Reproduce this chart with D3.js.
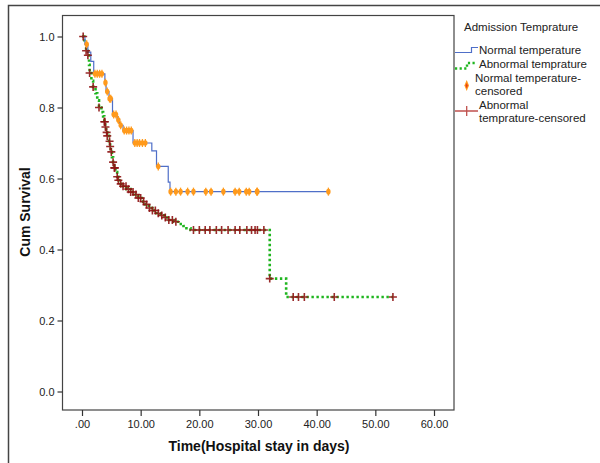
<!DOCTYPE html>
<html><head><meta charset="utf-8">
<script src="https://cdn.jsdelivr.net/npm/d3@7"></script>
<style>body{margin:0;background:#fff}svg{display:block}</style>
</head><body><svg id="c" width="600" height="463"></svg>
<script>
// ---- data ----
const xTicks = [0, 10, 20, 30, 40, 50, 60];
const xTickLabels = [".00", "10.00", "20.00", "30.00", "40.00", "50.00", "60.00"];
const yTicks = [0, 0.2, 0.4, 0.6, 0.8, 1.0];
const yTickLabels = ["0.0", "0.2", "0.4", "0.6", "0.8", "1.0"];
const groups = ["Normal temperature", "Abnormal temprature"];
// step times (days) and survival after each step
const normalStepTimes = [0, 0.5, 1.0, 1.5, 2.0, 3.9, 4.1, 4.6, 5.2, 6.0, 6.4, 7.0, 8.7, 11.9, 12.7, 14.7, 15.0];
const normalStepSurv  = [1.0, 0.978, 0.956, 0.93, 0.895, 0.87, 0.845, 0.825, 0.78, 0.765, 0.75, 0.735, 0.70, 0.678, 0.634, 0.59, 0.563];
const normalEnd = 42;
const normalCensored = [0.8, 2.2, 2.6, 3.0, 3.4, 4.0, 4.3, 4.7, 4.9, 5.4, 5.8, 6.2, 6.6, 7.2, 7.6, 8.0, 8.4, 9.0, 9.4, 9.8, 10.3, 10.8, 13.0, 15.1, 16.0, 16.8, 18.0, 19.0, 21.1, 22.0, 24.1, 26.1, 26.8, 28.0, 28.5, 29.8, 29.9, 42.0];
const abnStepTimes = [0, 0.4, 0.7, 1.0, 1.2, 1.3, 1.6, 1.9, 2.3, 2.6, 2.9, 3.3, 3.6, 3.8, 3.95, 4.1, 4.3, 4.6, 4.8, 4.9, 5.1, 5.3, 5.5, 5.7, 6.0, 6.2, 6.6, 7.0, 7.6, 8.3, 9.0, 9.6, 10.2, 10.8, 11.4, 12.0, 12.7, 13.4, 14.0, 14.8, 15.6, 16.6, 17.3, 17.8, 18.5, 32.0, 34.8];
const abnStepSurv  = [1.0, 0.985, 0.96, 0.947, 0.92, 0.897, 0.875, 0.858, 0.84, 0.82, 0.80, 0.787, 0.775, 0.76, 0.745, 0.73, 0.72, 0.705, 0.69, 0.675, 0.66, 0.646, 0.63, 0.618, 0.605, 0.595, 0.585, 0.578, 0.57, 0.562, 0.555, 0.545, 0.535, 0.527, 0.517, 0.51, 0.502, 0.496, 0.49, 0.483, 0.478, 0.472, 0.466, 0.46, 0.455, 0.318, 0.266];
const abnEnd = 53;
const abnCensored = [0.2, 0.7, 1.0, 1.3, 1.9, 2.9, 3.8, 3.9, 4.0, 4.2, 4.3, 4.7, 4.8, 5.0, 5.3, 5.5, 5.6, 6.0, 6.2, 6.6, 7.0, 7.5, 7.9, 8.3, 8.7, 9.2, 9.6, 10.0, 10.5, 11.0, 11.5, 12.0, 12.5, 13.0, 13.6, 14.2, 14.8, 15.4, 16.0, 19.0, 20.0, 21.0, 21.8, 22.9, 23.8, 24.9, 26.1, 26.9, 28.1, 28.9, 29.5, 29.9, 31.0, 32.0, 36.0, 36.9, 37.9, 43.0, 53.0];

// ---- drawing ----
const svg = d3.select("#c");
const FONT = "'Liberation Sans', Arial, sans-serif";
const L = 62.5, R = 454, T = 15.5, B = 410;
const x = d3.scaleLinear().domain([0, 60]).range([82, 434]);
const y = d3.scaleLinear().domain([0, 1]).range([391.5, 36.5]);

// outer frame (left & top)
svg.append("path").attr("d", `M8.5,463 V5.5 H600`).attr("fill", "none").attr("stroke", "#444").attr("stroke-width", 1.5);
// plot frame
svg.append("rect").attr("x", L).attr("y", T).attr("width", R - L).attr("height", B - T)
  .attr("fill", "none").attr("stroke", "#444").attr("stroke-width", 1.2);

// y axis
const yAxis = svg.append("g").attr("transform", `translate(${L},0)`)
  .call(d3.axisLeft(y).tickValues(yTicks).tickSize(5).tickPadding(3)
    .tickFormat((d, i) => yTickLabels[i]));
yAxis.select(".domain").remove();
yAxis.selectAll("line").attr("stroke", "#333").attr("stroke-width", 1.2);
yAxis.selectAll("text").attr("font-family", FONT).attr("font-size", 11).attr("fill", "#222");

// x axis
const xAxis = svg.append("g").attr("transform", `translate(0,${B})`)
  .call(d3.axisBottom(x).tickValues(xTicks).tickSize(6).tickPadding(4)
    .tickFormat((d, i) => xTickLabels[i]));
xAxis.select(".domain").remove();
xAxis.selectAll("line").attr("stroke", "#333").attr("stroke-width", 1.2);
xAxis.selectAll("text").attr("font-family", FONT).attr("font-size", 11).attr("fill", "#222");

// axis titles
svg.append("text").attr("x", 259).attr("y", 451).attr("text-anchor", "middle")
  .attr("font-family", FONT).attr("font-weight", "bold").attr("font-size", 14).attr("fill", "#111")
  .text("Time(Hospital stay in days)");
svg.append("text").attr("transform", "translate(30,212) rotate(-90)").attr("text-anchor", "middle")
  .attr("font-family", FONT).attr("font-weight", "bold").attr("font-size", 14).attr("fill", "#111")
  .text("Cum Survival");

function stepData(times, surv, end) {
  const pts = times.map((t, i) => [t, surv[i]]);
  pts.push([end, surv[surv.length - 1]]);
  return pts;
}
function survAt(times, surv, t) {
  let s = surv[0];
  for (let i = 0; i < times.length; i++) if (times[i] <= t + 1e-9) s = surv[i];
  return s;
}
const line = d3.line().x(d => x(d[0])).y(d => y(d[1])).curve(d3.curveStepAfter);

// abnormal curve (green dotted)
svg.append("path").datum(stepData(abnStepTimes, abnStepSurv, abnEnd))
  .attr("d", line).attr("fill", "none").attr("stroke", "#1fb51f")
  .attr("stroke-width", 2.6).attr("stroke-dasharray", "2.4,2.6");
// normal curve (blue)
svg.append("path").datum(stepData(normalStepTimes, normalStepSurv, normalEnd))
  .attr("d", line).attr("fill", "none").attr("stroke", "#4f6fc8").attr("stroke-width", 1.2);

// abnormal censored crosses
const crossCol = "#8e1414";
svg.append("g").selectAll("path").data(abnCensored).join("path")
  .attr("d", t => { const cx = x(t), cy = y(survAt(abnStepTimes, abnStepSurv, t));
    return `M${cx - 4},${cy}H${cx + 4}M${cx},${cy - 4}V${cy + 4}`; })
  .attr("stroke", crossCol).attr("stroke-width", 1.6).attr("stroke-opacity", 0.9);

// normal censored markers (orange)
const orange = "#ff9a1c";
const ng = svg.append("g");
ng.selectAll("line").data(normalCensored).join("line")
  .attr("x1", t => x(t)).attr("x2", t => x(t))
  .attr("y1", t => y(survAt(normalStepTimes, normalStepSurv, t)) - 4)
  .attr("y2", t => y(survAt(normalStepTimes, normalStepSurv, t)) + 4)
  .attr("stroke", orange).attr("stroke-width", 1.3);
ng.selectAll("ellipse").data(normalCensored).join("ellipse")
  .attr("cx", t => x(t)).attr("cy", t => y(survAt(normalStepTimes, normalStepSurv, t)))
  .attr("rx", 2.2).attr("ry", 2.8).attr("fill", orange);

// legend
const lg = svg.append("g").attr("font-family", FONT).attr("font-size", 11.5).attr("fill", "#222");
lg.append("text").attr("x", 464).attr("y", 31).text("Admission Temprature");
lg.append("path").attr("d", "M455,52.5 H471.5 V47.5 H478").attr("fill", "none").attr("stroke", "#4f6fc8").attr("stroke-width", 1.2);
lg.append("text").attr("x", 479).attr("y", 54).text(groups[0]);
lg.append("path").attr("d", "M455,68.5 H467 V63 H476").attr("fill", "none").attr("stroke", "#1fb51f").attr("stroke-width", 2.4).attr("stroke-dasharray", "2.2,2.4");
lg.append("text").attr("x", 479).attr("y", 68).text(groups[1]);
lg.append("path").attr("d", "M466.7,80 L469,85.5 L466.7,91 L464.4,85.5 Z").attr("fill", orange);
lg.append("path").attr("d", "M466.7,83 L467.8,85.5 L466.7,88.5 L465.6,85.5 Z").attr("fill", "#e8401a");
lg.append("text").attr("x", 475).attr("y", 81.5).text("Normal temperature-");
lg.append("text").attr("x", 475).attr("y", 95).text("censored");
lg.append("path").attr("d", "M455,111 H478 M466.7,106 V116").attr("stroke", "#c0504d").attr("stroke-width", 1.3);
lg.append("text").attr("x", 479).attr("y", 108.5).text("Abnormal");
lg.append("text").attr("x", 479).attr("y", 122).text("temprature-censored");
</script></body></html>
